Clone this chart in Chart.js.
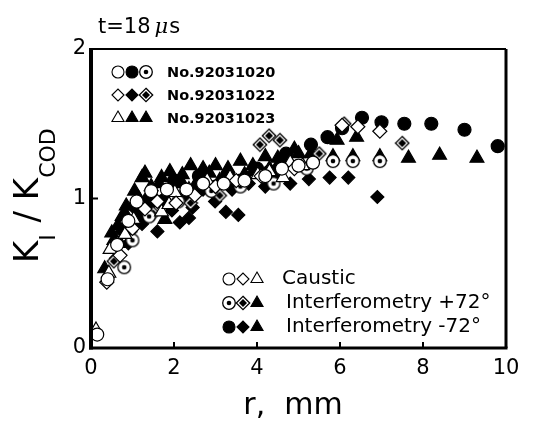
<!DOCTYPE html>
<html>
<head>
<meta charset="utf-8">
<script src="https://cdn.jsdelivr.net/npm/chart.js@4/dist/chart.umd.min.js"></script>
<style>
  html, body { margin: 0; padding: 0; background: #fff; }
  #wrap { width: 536px; height: 421px; }
</style>
</head>
<body>
<div id="wrap"><canvas id="myChart" width="536" height="421"></canvas></div>
<script>
'use strict'

// axis ticks
var xTicks = [0, 2, 4, 6, 8, 10];
var yTicks = [0, 1, 2];

// specimens and methods
var specimens = ["No.92031020", "No.92031022", "No.92031023"];
var methods = ["Caustic", "Interferometry +72°", "Interferometry -72°"];

// [r (mm), KI/KCOD]
// caustic (open symbols)
var causticCircle = [[0.15,0.09],[0.4,0.46],[0.63,0.69],[0.9,0.85],[1.1,0.98],[1.45,1.05],[1.83,1.06],[2.3,1.06],[2.7,1.1],[3.2,1.1],[3.7,1.12],[4.2,1.15],[4.6,1.2],[5.0,1.22],[5.35,1.24]];
var causticDiamond = [[0.38,0.44],[0.7,0.62],[1.0,0.8],[1.3,0.93],[1.6,0.98],[2.05,0.97],[2.5,1.02],[3.0,1.08],[3.5,1.12],[4.1,1.15],[4.9,1.2],[6.05,1.49],[6.43,1.48],[6.96,1.45]];
var causticTriangle = [[0.12,0.12],[0.43,0.5],[0.46,0.66],[0.82,0.76],[1.03,0.86],[1.2,0.96],[1.7,0.91],[1.88,0.96],[2.02,1.04],[2.36,1.06],[2.8,1.12],[3.35,1.14],[3.66,1.11],[4.02,1.16],[4.3,1.18],[4.63,1.14],[4.8,1.24],[5.1,1.22]];

// interferometry +72 deg
var plusCircle = [[0.8,0.54],[1.0,0.72],[1.4,0.88],[2.1,0.98],[2.9,1.05],[3.6,1.08],[4.4,1.1],[5.2,1.2],[5.83,1.25],[6.31,1.25],[6.96,1.25]];
var plusDiamond = [[0.55,0.58],[0.95,0.78],[1.5,0.9],[2.4,0.97],[3.1,1.02],[4.07,1.36],[4.29,1.42],[4.55,1.39],[5.5,1.3],[6.1,1.5],[7.5,1.37]];
var plusTriangle = [[0.5,0.77],[0.7,0.7],[0.82,0.9],[1.0,0.95],[1.23,1.14],[1.45,0.98],[1.64,1.1],[1.95,1.04],[2.2,1.16],[2.5,1.08],[2.7,1.2],[3.1,1.12],[3.3,1.18],[3.7,1.16],[3.9,1.22],[4.3,1.2],[4.5,1.27],[4.75,1.25],[5.0,1.3],[5.83,1.28],[6.31,1.28],[6.96,1.28]];

// interferometry -72 deg
var minusCircle = [[0.95,0.8],[1.2,0.9],[1.4,1.0],[1.7,0.98],[2.0,1.12],[2.3,1.05],[2.6,1.15],[3.0,1.08],[3.3,1.16],[3.6,1.12],[4.0,1.2],[4.3,1.18],[4.7,1.3],[5.3,1.36],[5.7,1.41],[6.05,1.47],[6.53,1.54],[7.0,1.51],[7.55,1.5],[8.2,1.5],[9.0,1.46],[9.8,1.35]];
var minusDiamond = [[0.6,0.6],[0.75,0.78],[0.9,0.7],[1.1,0.92],[1.23,0.83],[1.4,0.95],[1.6,0.78],[1.75,1.0],[1.95,0.92],[2.14,0.84],[2.3,1.02],[2.36,0.87],[2.45,0.94],[2.7,1.06],[2.99,0.98],[3.25,0.91],[3.4,1.06],[3.55,0.89],[3.8,1.1],[4.2,1.08],[4.5,1.15],[4.8,1.1],[5.25,1.13],[5.75,1.14],[6.2,1.14],[6.9,1.01]];
var minusTriangle = [[0.33,0.53],[0.5,0.66],[0.55,0.72],[0.65,0.82],[0.75,0.88],[0.85,0.95],[1.05,1.05],[1.15,1.0],[1.3,1.17],[1.45,1.08],[1.7,1.14],[1.78,0.86],[1.9,1.18],[2.2,1.1],[2.4,1.22],[2.6,1.13],[2.85,1.17],[3.0,1.22],[3.3,1.2],[3.6,1.25],[3.9,1.18],[4.2,1.28],[4.5,1.22],[4.9,1.33],[5.3,1.3],[5.93,1.39],[6.4,1.41],[7.65,1.27],[8.4,1.29],[9.3,1.27]];

function pts(arr) {
  return arr.map(function(p) { return {x: p[0], y: p[1]}; });
}

// little canvases for the "dotted" symbols
function dottedCircle() {
  var c = document.createElement("canvas");
  c.width = 16; c.height = 16;
  var g = c.getContext("2d");
  g.beginPath(); g.arc(8, 8, 6.3, 0, Math.PI * 2);
  g.fillStyle = "#fff"; g.fill();
  g.lineWidth = 1.3; g.strokeStyle = "#000"; g.stroke();
  g.beginPath(); g.arc(8, 8, 2.3, 0, Math.PI * 2);
  g.fillStyle = "#000"; g.fill();
  return c;
}
function dottedDiamond() {
  var c = document.createElement("canvas");
  c.width = 16; c.height = 16;
  var g = c.getContext("2d");
  g.beginPath(); g.moveTo(8, 1.3); g.lineTo(14.7, 8); g.lineTo(8, 14.7); g.lineTo(1.3, 8); g.closePath();
  g.fillStyle = "#fff"; g.fill();
  g.lineWidth = 1.3; g.strokeStyle = "#000"; g.stroke();
  g.beginPath(); g.moveTo(8, 4); g.lineTo(12, 8); g.lineTo(8, 12); g.lineTo(4, 8); g.closePath();
  g.fillStyle = "#000"; g.fill();
  return c;
}
var dotC = dottedCircle();
var dotD = dottedDiamond();

var sym = {
  oc: {pointStyle: "circle", radius: 6.5, bg: "#fff"},
  od: {pointStyle: "rectRot", radius: 7, bg: "#fff"},
  ot: {pointStyle: "triangle", radius: 8, bg: "#fff"},
  dc: {pointStyle: dotC, radius: 7, bg: "#fff"},
  dd: {pointStyle: dotD, radius: 7, bg: "#fff"},
  ft: {pointStyle: "triangle", radius: 8, bg: "#000"},
  fc: {pointStyle: "circle", radius: 6.5, bg: "#000"},
  fd: {pointStyle: "rectRot", radius: 6.5, bg: "#000"}
};

function ds(label, arr, s) {
  return {
    label: label,
    data: pts(arr),
    pointStyle: s.pointStyle,
    pointRadius: s.radius,
    pointHoverRadius: s.radius,
    pointBackgroundColor: s.bg,
    pointBorderColor: "#000",
    pointBorderWidth: 1.2,
    showLine: false
  };
}

// first dataset is drawn on top, so open symbols go first
var datasets = [
  ds(specimens[0] + " " + methods[0], causticCircle, sym.oc),
  ds(specimens[1] + " " + methods[0], causticDiamond, sym.od),
  ds(specimens[2] + " " + methods[0], causticTriangle, sym.ot),
  ds(specimens[0] + " " + methods[1], plusCircle, sym.dc),
  ds(specimens[1] + " " + methods[1], plusDiamond, sym.dd),
  ds(specimens[2] + " " + methods[1], plusTriangle, sym.ft),
  ds(specimens[0] + " " + methods[2], minusCircle, sym.fc),
  ds(specimens[1] + " " + methods[2], minusDiamond, sym.fd),
  ds(specimens[2] + " " + methods[2], minusTriangle, sym.ft)
];

function drawSym(ctx, s, x, y, r) {
  ctx.save();
  ctx.fillStyle = s.bg;
  ctx.strokeStyle = "#000";
  ctx.lineWidth = 1.1;
  Chart.helpers.drawPoint(ctx, {pointStyle: s.pointStyle, radius: r, borderWidth: 1.1, rotation: 0}, x, y);
  ctx.restore();
}

var frame = {
  id: "frame",
  afterDatasetsDraw: function(chart) {
    var ctx = chart.ctx;
    var a = chart.chartArea;
    var xs = chart.scales.x, ys = chart.scales.y;
    ctx.save();
    ctx.strokeStyle = "#000";
    ctx.fillStyle = "#000";

    // box
    ctx.lineWidth = 2; ctx.beginPath(); ctx.moveTo(a.left, a.top); ctx.lineTo(a.right, a.top); ctx.stroke();
    ctx.lineWidth = 3; ctx.beginPath(); ctx.moveTo(a.right, a.top); ctx.lineTo(a.right, a.bottom); ctx.stroke();
    ctx.lineWidth = 3; ctx.beginPath(); ctx.moveTo(a.left - 2, a.bottom); ctx.lineTo(a.right + 1.5, a.bottom); ctx.stroke();
    ctx.lineWidth = 4; ctx.beginPath(); ctx.moveTo(a.left, a.top - 1); ctx.lineTo(a.left, a.bottom + 1.5); ctx.stroke();

    // inward ticks
    ctx.lineWidth = 2;
    xTicks.slice(1, -1).forEach(function(v) {
      var px = xs.getPixelForValue(v);
      ctx.beginPath(); ctx.moveTo(px, a.bottom); ctx.lineTo(px, a.bottom - 6); ctx.stroke();
    });
    yTicks.slice(1, -1).forEach(function(v) {
      var py = ys.getPixelForValue(v);
      ctx.beginPath(); ctx.moveTo(a.left, py); ctx.lineTo(a.left + 7, py); ctx.stroke();
    });

    // time label
    ctx.textBaseline = "alphabetic";
    ctx.textAlign = "left";
    ctx.font = "21px 'DejaVu Sans'";
    ctx.fillText("t=18", 98, 33);
    var w = ctx.measureText("t=18").width;
    ctx.font = "italic 21px 'DejaVu Serif'";
    ctx.fillText("μ", 98 + w + 4, 33);
    var w2 = ctx.measureText("μ").width;
    ctx.font = "21px 'DejaVu Sans'";
    ctx.fillText("s", 98 + w + 4 + w2 + 1, 33);

    // x title
    ctx.textAlign = "center";
    ctx.font = "30px 'DejaVu Sans'";
    ctx.fillText("r,  mm", 293, 414);

    // y title with subscripts
    ctx.save();
    ctx.translate(38, 263);
    ctx.rotate(-Math.PI / 2);
    ctx.textAlign = "left";
    var xo = 0;
    var parts = [["K", 0], ["I", 1], [" / ", 0], ["K", 0], ["COD", 1]];
    parts.forEach(function(p) {
      ctx.font = p[1] ? "22px 'DejaVu Sans'" : "34px 'DejaVu Sans'";
      ctx.fillText(p[0], xo, p[1] ? 17 : 0);
      xo += ctx.measureText(p[0]).width + (p[1] ? 1 : 0);
    });
    ctx.restore();

    // specimen legend
    var rows = [[sym.oc, sym.fc, sym.dc], [sym.od, sym.fd, sym.dd], [sym.ot, sym.ft, sym.ft]];
    ctx.font = "bold 14.5px 'DejaVu Sans'";
    ctx.textAlign = "left";
    ctx.textBaseline = "middle";
    for (var i = 0; i < 3; i++) {
      var yy = 72 + i * 23;
      for (var j = 0; j < 3; j++) {
        drawSym(ctx, rows[i][j], 118 + j * 14, yy, rows[i][j].pointStyle === "triangle" ? 7 : 6);
      }
      ctx.fillStyle = "#000";
      ctx.fillText(specimens[i], 167, yy + 1);
    }

    // method legend
    var mrows = [[sym.oc, sym.od, sym.ot], [sym.dc, sym.dd, sym.ft], [sym.fc, sym.fd, sym.ft]];
    ctx.font = "20px 'DejaVu Sans'";
    for (var k = 0; k < 3; k++) {
      var y2 = 279 + k * 24;
      for (var m = 0; m < 3; m++) {
        drawSym(ctx, mrows[k][m], 229 + m * 14, y2, mrows[k][m].pointStyle === "triangle" ? 7 : 6);
      }
      ctx.fillStyle = "#000";
      ctx.fillText(methods[k], k === 0 ? 282 : 286, y2);
    }
    ctx.restore();
  }
};

var ctx = document.getElementById("myChart");

var scatter = new Chart(ctx, {
  type: "scatter",
  data: { datasets: datasets },
  options: {
    responsive: false,
    animation: false,
    events: [],
    layout: { autoPadding: false, padding: { left: 0, right: 30, top: 49, bottom: 0 } },
    plugins: { legend: { display: false }, tooltip: { enabled: false } },
    scales: {
      x: {
        type: "linear", min: 0, max: 10,
        afterFit: function(s) { s.height = 73; },
        afterBuildTicks: function(s) { s.ticks = xTicks.map(function(v) { return {value: v}; }); },
        grid: { display: false, drawTicks: false },
        border: { display: false },
        ticks: { color: "#000", padding: 8, maxRotation: 0, font: { family: "'DejaVu Sans'", size: 21 } }
      },
      y: {
        type: "linear", min: 0, max: 2,
        afterFit: function(s) { s.width = 91; },
        afterBuildTicks: function(s) { s.ticks = yTicks.map(function(v) { return {value: v}; }); },
        grid: { display: false, drawTicks: false },
        border: { display: false },
        ticks: { color: "#000", padding: 5, font: { family: "'DejaVu Sans'", size: 21 } }
      }
    }
  },
  plugins: [frame]
});
</script>
</body>
</html>
